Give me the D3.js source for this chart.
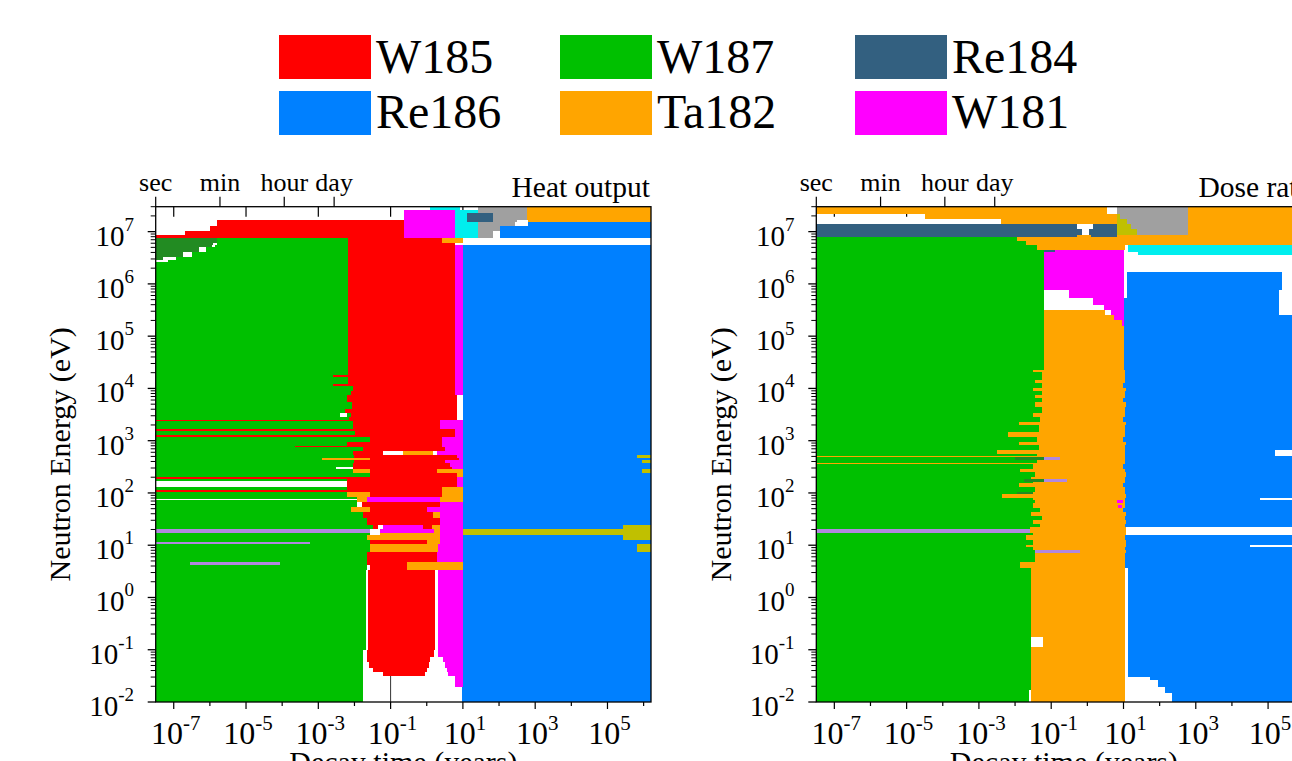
<!DOCTYPE html>
<html><head><meta charset="utf-8">
<script src="https://cdn.jsdelivr.net/npm/d3@7"></script>
<style>body{margin:0;background:#fff}svg{display:block;font-family:"Liberation Serif","Times New Roman",serif}</style>
</head><body><svg id="c" width="1292" height="761"></svg>
<script>
// ---- data ----
const nuclides = ["W185","W187","Re184","Re186","Ta182","W181","X1","X2","X3","X4","X5"];
const nuclideColors = ["#ff0000","#00c000","#336080","#0080ff","#ffa500","#ff00ff","#228b22","#00eeee","#a0a0a0","#c0c000","#b088e0"];
const legendItems = ["W185","W187","Re184","Re186","Ta182","W181"];
const timeDomain = [3.17e-8, 1.6e6];      // years
const energyDomain = [1e-2, 3e7];         // eV
const xTickExps = [-7,-6,-5,-4,-3,-2,-1,0,1,2,3,4,5,6];
const xLabelExps = [-7,-5,-3,-1,1,3,5];
const yTickExps = [-2,-1,0,1,2,3,4,5,6,7];
const topTickNames = ["sec","min","hour","day"];
const topTickYears = [1/31557600, 60/31557600, 3600/31557600, 86400/31557600];
const panelTitles = ["Heat output","Dose rate"];

// strips: [log10 E top, log10 E bottom, [[nuclide, log10 t end], ...]]; "-" = none
const heatStrips = [
 [7.47,7.41,[["-",0.10],["X2",0.93],["-",1.42],["X3",2.78],["Ta182",9]]],
 [7.41,7.35,[["-",-0.62],["W181",0.78],["X2",1.42],["X3",2.78],["Ta182",9]]],
 [7.35,7.22,[["-",-0.62],["W181",0.78],["X2",1.12],["Re184",1.84],["X3",2.78],["Ta182",9]]],
 [7.22,7.18,[["-",-5.79],["W185",-0.62],["W181",0.78],["X2",1.12],["Re184",1.84],["X3",2.5],["-",2.8],["Ta182",9]]],
 [7.18,7.10,[["-",-5.79],["W185",-0.62],["W181",0.78],["X2",1.42],["X3",2.45],["-",2.8],["Re186",9]]],
 [7.10,7.02,[["-",-6.0],["W185",-0.62],["W181",0.78],["X2",1.42],["X3",2.03],["Re186",9]]],
 [7.02,6.93,[["-",-6.7],["W185",-0.62],["W181",0.78],["X2",1.42],["X3",1.84],["-",2.03],["Re186",9]]],
 [6.93,6.876,[["W185",-0.62],["W181",0.78],["X2",1.42],["X3",1.84],["-",2.03],["Re186",9]]],
 [6.876,6.78,[["X1",-5.79],["W187",-2.17],["W185",0.42],["Ta182",1.005],["-",9]]],
 [6.78,6.742,[["X1",-5.9],["-",-5.79],["W187",-2.17],["W185",0.78],["-",9]]],
 [6.742,6.70,[["X1",-5.95],["-",-5.85],["W187",-2.17],["W185",0.78],["W181",1.005],["Re186",9]]],
 [6.70,6.61,[["X1",-6.3],["-",-6.1],["W187",-2.17],["W185",0.78],["W181",1.005],["Re186",9]]],
 [6.61,6.51,[["X1",-6.75],["-",-6.5],["W187",-2.17],["W185",0.78],["W181",1.005],["Re186",9]]],
 [6.51,6.45,[["X1",-7.3],["-",-6.95],["W187",-2.17],["W185",0.78],["W181",1.005],["Re186",9]]],
 [6.45,6.41,[["-",-7.15],["W187",-2.17],["W185",0.78],["W181",1.005],["Re186",9]]],
 [6.41,4.26,[["W187",-2.17],["W185",0.78],["W181",1.005],["Re186",9]]],
 [4.26,4.22,[["W187",-2.6],["W185",0.78],["W181",1.005],["Re186",9]]],
 [4.22,4.08,[["W187",-2.17],["W185",0.78],["W181",1.005],["Re186",9]]],
 [4.08,4.04,[["W187",-2.6],["W185",0.78],["W181",1.005],["Re186",9]]],
 [4.04,3.95,[["W187",-2.05],["W185",0.78],["W181",1.005],["Re186",9]]],
 [3.95,3.87,[["W187",-2.1],["W185",0.78],["W181",1.005],["Re186",9]]],
 [3.87,3.74,[["W187",-2.2],["W185",0.84],["-",1.005],["Re186",9]]],
 [3.74,3.60,[["W187",-2.08],["W185",0.84],["-",1.005],["Re186",9]]],
 [3.60,3.53,[["W187",-2.25],["W185",0.84],["-",1.005],["Re186",9]]],
 [3.53,3.45,[["W187",-2.4],["-",-2.21],["W187",-2.1],["W185",0.84],["-",1.005],["Re186",9]]],
 [3.45,3.40,[["W187",-2.15],["W185",0.84],["-",1.005],["Re186",9]]],
 [3.40,3.38,[["W185",0.36],["W181",1.005],["Re186",9]]],
 [3.38,3.23,[["W187",-2.05],["W185",0.36],["W181",1.005],["Re186",9]]],
 [3.23,3.19,[["W185",0.78],["W181",1.005],["Re186",9]]],
 [3.19,3.11,[["W187",-1.98],["W185",0.78],["W181",1.005],["Re186",9]]],
 [3.11,3.08,[["W185",0.78],["W181",1.005],["Re186",9]]],
 [3.08,2.98,[["W187",-1.57],["W185",0.42],["W181",1.005],["Re186",9]]],
 [2.98,2.90,[["W187",-2.21],["W185",0.42],["W181",1.005],["Re186",9]]],
 [2.90,2.88,[["W187",-3.65],["W185",0.42],["W181",1.005],["Re186",9]]],
 [2.88,2.80,[["W187",-1.77],["W185",0.5],["W181",1.005],["Re186",9]]],
 [2.80,2.73,[["W187",-2.05],["W185",-1.22],["-",-0.67],["Ta182",0.17],["-",0.28],["W181",1.005],["Re186",9]]],
 [2.73,2.67,[["W187",-2.0],["W185",0.83],["W181",1.005],["Re186",5.82],["X4",9]]],
 [2.67,2.63,[["W187",-2.9],["Ta182",-1.57],["W185",0.9],["W181",1.005],["Re186",9]]],
 [2.63,2.57,[["W187",-2.0],["W185",0.5],["W181",1.005],["Re186",5.95],["X4",9]]],
 [2.57,2.50,[["W187",-2.05],["W185",0.65],["W181",1.005],["Re186",9]]],
 [2.50,2.46,[["W187",-2.5],["-",-2.05],["W185",0.7],["W181",1.005],["Re186",9]]],
 [2.46,2.38,[["W187",-2.05],["Ta182",-1.57],["W185",0.28],["Ta182",1.005],["Re186",5.95],["X4",9]]],
 [2.38,2.31,[["W187",-1.57],["W185",0.83],["Ta182",1.005],["Re186",9]]],
 [2.31,2.27,[["W185",0.83],["W181",1.005],["Re186",9]]],
 [2.27,2.23,[["W187",-2.21],["W185",0.83],["W181",1.005],["Re186",9]]],
 [2.23,2.12,[["-",-2.21],["W185",0.83],["W181",1.005],["Re186",9]]],
 [2.12,2.06,[["W187",-2.21],["W185",0.42],["Ta182",1.005],["Re186",9]]],
 [2.06,2.01,[["W185",0.42],["Ta182",1.005],["Re186",9]]],
 [2.01,1.92,[["W187",-2.21],["Ta182",-1.57],["W185",0.42],["Ta182",1.005],["Re186",9]]],
 [1.92,1.89,[["W187",-1.93],["Ta182",-1.66],["W181",0.36],["Ta182",1.005],["Re186",9]]],
 [1.89,1.87,[["-",-1.93],["Ta182",-1.66],["W181",0.36],["Ta182",1.005],["Re186",9]]],
 [1.87,1.83,[["W187",-1.93],["Ta182",-1.66],["W181",0.36],["Ta182",1.005],["Re186",9]]],
 [1.83,1.73,[["W187",-1.93],["-",-1.8],["W185",0.36],["W181",1.005],["Re186",9]]],
 [1.73,1.64,[["W187",-2.1],["Ta182",-1.57],["W185",0.0],["W181",1.005],["Re186",9]]],
 [1.64,1.52,[["W187",-1.77],["W185",0.17],["Ta182",0.36],["W181",1.005],["Re186",9]]],
 [1.52,1.39,[["W187",-1.66],["W185",0.36],["W181",1.005],["Re186",9]]],
 [1.39,1.31,[["W187",-1.5],["W185",-1.35],["-",-1.2],["W181",-0.1],["W185",0.15],["Ta182",0.36],["W181",1.005],["Re186",5.43],["X4",9]]],
 [1.31,1.235,[["X5",-1.57],["-",-1.3],["W181",0.2],["Ta182",0.36],["W181",1.005],["X4",9]]],
 [1.235,1.20,[["W187",-1.57],["-",-1.3],["Ta182",0.36],["W181",1.005],["X4",9]]],
 [1.20,1.10,[["W187",-1.66],["Ta182",0.36],["W181",1.005],["Re186",5.43],["X4",9]]],
 [1.10,1.06,[["W187",-1.57],["W185",0.0],["Ta182",0.36],["W181",1.005],["Re186",9]]],
 [1.06,1.025,[["X5",-3.23],["W187",-1.57],["W185",0.0],["Ta182",0.36],["W181",1.005],["Re186",9]]],
 [1.025,0.87,[["W187",-1.57],["Ta182",0.3],["W181",1.005],["Re186",5.82],["X4",9]]],
 [0.87,0.68,[["W187",-1.66],["W185",0.28],["W181",1.005],["Re186",9]]],
 [0.68,0.62,[["W187",-6.55],["X5",-4.06],["W187",-1.66],["W185",-0.55],["Ta182",1.005],["Re186",9]]],
 [0.62,0.53,[["W187",-1.66],["-",-1.57],["W185",-0.55],["Ta182",1.005],["Re186",9]]],
 [0.53,-1.0,[["W187",-1.68],["-",-1.63],["W185",0.23],["-",0.32],["W181",1.005],["Re186",9]]],
 [-1.0,-1.14,[["W187",-1.77],["-",-1.66],["W185",0.2],["-",0.32],["W181",1.005],["Re186",9]]],
 [-1.14,-1.23,[["W187",-1.77],["-",-1.66],["W185",0.1],["-",0.46],["W181",1.005],["Re186",9]]],
 [-1.23,-1.35,[["W187",-1.77],["-",-1.6],["W185",0.05],["-",0.5],["W181",1.005],["Re186",9]]],
 [-1.35,-1.42,[["W187",-1.77],["-",-1.5],["W185",0.0],["-",0.55],["W181",1.005],["Re186",9]]],
 [-1.42,-1.50,[["W187",-1.77],["-",-1.2],["W185",-0.05],["-",0.6],["W181",1.005],["Re186",9]]],
 [-1.50,-1.71,[["W187",-1.77],["-",0.78],["W181",1.005],["Re186",9]]],
 [-1.71,-2.0,[["W187",-1.77],["-",0.97],["Re186",9]]]
];

const doseStrips = [
 [7.47,7.33,[["Ta182",0.55],["-",0.82],["X3",2.78],["Ta182",9]]],
 [7.33,7.24,[["-",-4.5],["Ta182",0.82],["X4",0.9],["X3",2.78],["Ta182",9]]],
 [7.24,7.15,[["-",-2.4],["Ta182",0.82],["X4",1.1],["X3",2.78],["Ta182",9]]],
 [7.15,7.05,[["Re184",-0.3],["-",0.15],["Re184",0.82],["X4",1.2],["X3",2.78],["Ta182",9]]],
 [7.05,6.93,[["Re184",-0.15],["-",0.05],["Re184",0.82],["X4",1.37],["X3",2.78],["Ta182",9]]],
 [6.93,6.895,[["Re184",-0.3],["Ta182",0.1],["Re184",0.82],["Ta182",9]]],
 [6.895,6.82,[["W187",-1.95],["Ta182",9]]],
 [6.82,6.742,[["W187",-1.7],["Ta182",9]]],
 [6.742,6.65,[["W187",-1.4],["Ta182",1.04],["-",1.12],["X2",9]]],
 [6.65,6.61,[["W187",-1.2],["Re184",-0.9],["W181",1.02],["-",1.12],["X2",9]]],
 [6.61,6.55,[["W187",-1.2],["W181",1.02],["-",1.4],["X2",9]]],
 [6.55,6.23,[["W187",-1.2],["W181",1.02],["-",9]]],
 [6.23,5.88,[["W187",-1.2],["W181",1.02],["-",1.09],["Re186",5.38],["-",9]]],
 [5.88,5.73,[["W187",-1.2],["-",-0.5],["W181",1.02],["-",1.09],["Re186",5.3],["-",9]]],
 [5.73,5.59,[["W187",-1.2],["-",0.15],["W181",1.02],["Re186",5.3],["-",9]]],
 [5.59,5.50,[["W187",-1.2],["-",0.45],["W181",1.02],["Re186",5.3],["-",9]]],
 [5.50,5.40,[["W187",-1.2],["Ta182",0.5],["-",0.65],["W181",1.02],["Re186",5.3],["-",9]]],
 [5.40,5.30,[["W187",-1.2],["Ta182",0.75],["W181",1.02],["Re186",9]]],
 [5.30,5.20,[["W187",-1.2],["Ta182",0.95],["W181",1.02],["Re186",9]]],
 [5.20,4.35,[["W187",-1.2],["Ta182",1.02],["Re186",9]]],
 [4.35,4.31,[["W187",-1.51],["Ta182",1.04],["Re186",9]]],
 [4.31,4.16,[["W187",-1.25],["Ta182",1.04],["Re186",9]]],
 [4.16,4.10,[["W187",-1.45],["Ta182",1.04],["Re186",9]]],
 [4.10,4.01,[["W187",-1.25],["Ta182",1.0],["Re186",9]]],
 [4.01,3.95,[["W187",-1.5],["Ta182",1.06],["Re186",9]]],
 [3.95,3.87,[["W187",-1.25],["Ta182",1.04],["Re186",9]]],
 [3.87,3.82,[["W187",-1.45],["Ta182",1.04],["Re186",9]]],
 [3.82,3.74,[["W187",-1.25],["Ta182",1.0],["Re186",9]]],
 [3.74,3.64,[["W187",-1.45],["Ta182",1.06],["Re186",9]]],
 [3.64,3.53,[["W187",-1.25],["Ta182",1.04],["Re186",9]]],
 [3.53,3.45,[["W187",-1.51],["Ta182",1.04],["Re186",9]]],
 [3.45,3.36,[["W187",-1.3],["Ta182",1.0],["Re186",9]]],
 [3.36,3.30,[["W187",-1.9],["Ta182",1.06],["Re186",9]]],
 [3.30,3.17,[["W187",-1.35],["Ta182",1.04],["Re186",9]]],
 [3.17,3.07,[["W187",-2.2],["Ta182",1.04],["Re186",9]]],
 [3.07,2.975,[["W187",-1.4],["Ta182",1.0],["Re186",9]]],
 [2.975,2.92,[["W187",-1.9],["Ta182",1.06],["Re186",9]]],
 [2.92,2.82,[["W187",-1.35],["Ta182",1.04],["Re186",9]]],
 [2.82,2.75,[["W187",-2.5],["Ta182",1.04],["Re186",5.18],["-",9]]],
 [2.75,2.70,[["W187",-1.4],["Ta182",1.04],["Re186",5.18],["-",9]]],
 [2.70,2.68,[["Ta182",1.04],["Re186",9]]],
 [2.68,2.63,[["W187",-2.0],["X1",-1.2],["X5",-0.76],["Ta182",1.04],["Re186",9]]],
 [2.63,2.575,[["W187",-1.4],["Ta182",1.04],["Re186",9]]],
 [2.575,2.555,[["Ta182",1.04],["Re186",9]]],
 [2.555,2.46,[["W187",-1.5],["Ta182",1.0],["Re186",9]]],
 [2.46,2.40,[["W187",-1.85],["Ta182",1.04],["Re186",9]]],
 [2.40,2.31,[["W187",-1.45],["Ta182",1.06],["Re186",9]]],
 [2.31,2.27,[["W187",-1.55],["Ta182",1.04],["Re186",9]]],
 [2.27,2.21,[["W187",-1.75],["X1",-1.2],["X5",-0.57],["Ta182",1.04],["Re186",9]]],
 [2.21,2.19,[["W187",-1.5],["Ta182",1.04],["Re186",9]]],
 [2.19,2.115,[["W187",-1.9],["Ta182",1.0],["Re186",9]]],
 [2.115,2.02,[["W187",-1.45],["Ta182",1.04],["Re186",9]]],
 [2.02,1.98,[["W187",-1.95],["X1",-1.5],["Ta182",1.04],["Re186",9]]],
 [1.98,1.905,[["W187",-2.35],["Ta182",1.06],["Re186",9]]],
 [1.905,1.87,[["W187",-1.5],["Ta182",1.04],["Re186",4.77],["-",9]]],
 [1.87,1.81,[["W187",-1.45],["Ta182",0.82],["W181",0.98],["Ta182",1.04],["Re186",9]]],
 [1.81,1.77,[["W187",-1.5],["Ta182",1.04],["Re186",9]]],
 [1.77,1.715,[["W187",-1.5],["Ta182",0.85],["W181",0.95],["Ta182",1.04],["Re186",9]]],
 [1.715,1.64,[["W187",-1.3],["Ta182",1.0],["Re186",9]]],
 [1.64,1.56,[["W187",-1.55],["Ta182",1.06],["Re186",9]]],
 [1.56,1.48,[["W187",-1.25],["Ta182",1.04],["Re186",9]]],
 [1.48,1.41,[["W187",-1.5],["Ta182",1.06],["Re186",9]]],
 [1.41,1.35,[["W187",-1.3],["Ta182",1.04],["Re186",9]]],
 [1.35,1.31,[["W187",-1.6],["Ta182",1.08],["-",9]]],
 [1.31,1.235,[["X5",-1.59],["Ta182",1.08],["-",9]]],
 [1.235,1.20,[["W187",-1.5],["Ta182",1.08],["-",9]]],
 [1.20,1.10,[["W187",-1.7],["Ta182",1.04],["Re186",9]]],
 [1.10,1.006,[["W187",-1.5],["Ta182",1.06],["Re186",9]]],
 [1.006,0.967,[["W187",-1.7],["Ta182",1.06],["Re186",4.49],["-",9]]],
 [0.967,0.91,[["W187",-1.5],["Ta182",1.04],["Re186",9]]],
 [0.91,0.85,[["W187",-1.45],["X5",-0.21],["Ta182",1.06],["Re186",9]]],
 [0.85,0.68,[["W187",-1.45],["Ta182",1.04],["Re186",9]]],
 [0.68,0.57,[["W187",-1.85],["Ta182",1.04],["Re186",9]]],
 [0.57,-0.755,[["W187",-1.56],["Ta182",1.04],["-",1.12],["Re186",9]]],
 [-0.755,-0.946,[["W187",-1.56],["-",-1.23],["Ta182",1.04],["-",1.12],["Re186",9]]],
 [-0.946,-1.52,[["W187",-1.56],["Ta182",1.04],["-",1.12],["Re186",9]]],
 [-1.52,-1.577,[["W187",-1.56],["Ta182",1.04],["-",1.73],["Re186",9]]],
 [-1.577,-1.71,[["W187",-1.56],["Ta182",1.04],["-",1.95],["Re186",9]]],
 [-1.71,-1.77,[["W187",-1.56],["Ta182",1.04],["-",2.14],["Re186",9]]],
 [-1.77,-1.83,[["W187",-1.62],["-",-1.56],["Ta182",1.04],["-",2.14],["Re186",9]]],
 [-1.83,-2.0,[["W187",-1.62],["-",-1.56],["Ta182",1.04],["-",2.33],["Re186",9]]]
];

// ---- drawing ----
const svg = d3.select("#c");
const color = d3.scaleOrdinal().domain(nuclides).range(nuclideColors);
const PW = 495.3, PH = 495.3, PTOP = 206.7;
const panelLeft = [155.7, 816.3];
const yLabelX = [70, 731];
const panelStrips = [heatStrips, doseStrips];

function sup(sel, exp, big, small, raise) {
  sel.append("tspan").attr("font-size", big).text("10");
  sel.append("tspan").attr("font-size", small).attr("dy", -raise).text(String(exp));
}

panelStrips.forEach((strips, pi) => {
  const g = svg.append("g").attr("transform", `translate(${panelLeft[pi]},${PTOP})`);
  const x = d3.scaleLog().domain(timeDomain).range([0, PW]).clamp(true);
  const y = d3.scaleLog().domain(energyDomain).range([PH, 0]).clamp(true);

  // inward ticks (beneath the map, visible only through gaps)
  g.selectAll(".itick").data(xLabelExps).join("line")
    .attr("x1", d => x(10 ** d)).attr("x2", d => x(10 ** d))
    .attr("y1", 0).attr("y2", 10).attr("stroke", "#000").attr("stroke-width", 1.2);
  g.selectAll(".ibtick").data(xLabelExps).join("line")
    .attr("x1", d => x(10 ** d)).attr("x2", d => x(10 ** d))
    .attr("y1", PH).attr("y2", PH - 27).attr("stroke", "#333").attr("stroke-width", 1);

  // map: one path per nuclide
  const paths = {};
  strips.forEach(([eTop, eBot, runs]) => {
    const y0 = y(10 ** eTop), y1 = y(10 ** eBot);
    let t0 = timeDomain[0];
    runs.forEach(([n, tEnd]) => {
      const t1 = Math.min(10 ** tEnd, timeDomain[1]);
      if (n !== "-" && t1 > t0) {
        const x0 = x(t0), x1 = x(t1);
        paths[n] = (paths[n] || "") + `M${x0},${y0}H${x1}V${y1}H${x0}Z`;
      }
      t0 = Math.max(t0, t1);
    });
  });
  g.append("g").selectAll("path").data(nuclides.filter(n => paths[n])).join("path")
    .attr("d", n => paths[n]).attr("fill", n => color(n)).attr("shape-rendering", "crispEdges");

  // frame
  g.append("rect").attr("width", PW).attr("height", PH).attr("fill", "none")
    .attr("stroke", "#000").attr("stroke-width", 1.3);

  // bottom ticks
  g.selectAll(".btick").data(xTickExps).join("line")
    .attr("x1", d => x(10 ** d)).attr("x2", d => x(10 ** d))
    .attr("y1", PH).attr("y2", d => PH + (d % 2 ? 7 : 4))
    .attr("stroke", "#000").attr("stroke-width", 1.2);
  // bottom labels
  g.selectAll(".blab").data(xLabelExps).join("text")
    .attr("x", d => x(10 ** d) + 2).attr("y", PH + 42).attr("text-anchor", "middle")
    .each(function (d) { sup(d3.select(this), d, 32, 21, 14); });

  // left ticks
  const minor = [];
  yTickExps.forEach(e => { for (let m = 2; m <= 9; m++) { const v = m * 10 ** e; if (v <= energyDomain[1]) minor.push(v); } });
  g.selectAll(".ymin").data(minor).join("line")
    .attr("x1", -5).attr("x2", 0).attr("y1", d => y(d)).attr("y2", d => y(d))
    .attr("stroke", "#000").attr("stroke-width", 1);
  g.selectAll(".ymaj").data(yTickExps).join("line")
    .attr("x1", -8).attr("x2", 0).attr("y1", d => y(10 ** d)).attr("y2", d => y(10 ** d))
    .attr("stroke", "#000").attr("stroke-width", 1.3);
  g.selectAll(".ylab").data(yTickExps).join("text")
    .attr("x", -21.7).attr("y", d => y(10 ** d) + 14).attr("text-anchor", "end")
    .each(function (d) { sup(d3.select(this), d, 29, 19, 15); });

  // top time-unit axis
  g.selectAll(".ttick").data(topTickYears).join("line")
    .attr("x1", d => x(d)).attr("x2", d => x(d)).attr("y1", 0).attr("y2", -10)
    .attr("stroke", "#000").attr("stroke-width", 1.2);
  g.selectAll(".tlab").data(topTickNames).join("text")
    .attr("x", (d, i) => x(topTickYears[i])).attr("y", -16).attr("text-anchor", "middle")
    .attr("font-size", 26).text(d => d);

  // title
  g.append("text").attr("x", PW - 1).attr("y", -10).attr("text-anchor", "end")
    .attr("font-size", 29.5).text(panelTitles[pi]);

  // axis titles
  g.append("text").attr("x", PW / 2).attr("y", PH + 70).attr("text-anchor", "middle")
    .attr("font-size", 30).text("Decay time (years)");
  svg.append("text").attr("transform", `translate(${yLabelX[pi]},${PTOP + PH / 2}) rotate(-90)`)
    .attr("text-anchor", "middle").attr("font-size", 30).text("Neutron Energy (eV)");
});

// legend
const legBoxX = [279, 560, 855], legBoxY = [35, 91], legBase = [73, 128];
const leg = svg.append("g").selectAll("g").data(legendItems).join("g");
leg.append("rect")
  .attr("x", (d, i) => legBoxX[i % 3]).attr("y", (d, i) => legBoxY[Math.floor(i / 3)])
  .attr("width", 92).attr("height", 44).attr("fill", d => color(d));
leg.append("text")
  .attr("x", (d, i) => legBoxX[i % 3] + 97).attr("y", (d, i) => legBase[Math.floor(i / 3)])
  .attr("font-size", 48).text(d => d);
</script></body></html>
